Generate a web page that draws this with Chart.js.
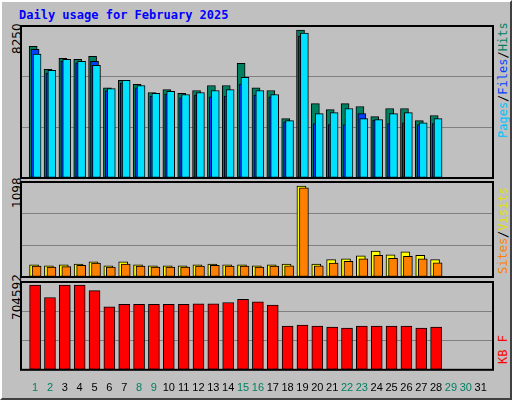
<!DOCTYPE html>
<html><head><meta charset="utf-8">
<script src="https://cdn.jsdelivr.net/npm/chart.js@4/dist/chart.umd.min.js"></script>
<style>
body{margin:0;background:#fff;}
#frame{position:absolute;left:0;top:0;width:508px;height:396px;background:#c0c0c0;border-top:2px solid #fff;border-left:2px solid #fff;border-right:2px solid #404040;border-bottom:2px solid #404040;overflow:hidden;font-family:"DejaVu Sans Mono",monospace;}
#title{position:absolute;left:17px;top:6px;color:#0000ff;font-weight:bold;font-size:12px;}
canvas{position:absolute;}
.vl{position:absolute;transform-origin:0 0;transform:rotate(-90deg);font-size:12px;white-space:nowrap;}
</style></head><body>
<div id="frame">
<div id="title">Daily usage for February 2025</div>
<div class="vl" style="left:8px;top:52px;color:#000;font-family:'DejaVu Sans';">8250</div>
<div class="vl" style="left:8px;top:206px;color:#000;font-family:'DejaVu Sans';">1098</div>
<div class="vl" style="left:8px;top:318px;color:#000;font-family:'DejaVu Sans';">704592</div>
<div class="vl" style="left:494px;top:136px;"><span style="color:#00c0ff">Pages</span>/<span style="color:#0040ff">Files</span>/<span style="color:#008060">Hits</span></div>
<div class="vl" style="left:494px;top:272px;"><span style="color:#ff8000">Sites</span>/<span style="color:#e0e000">Visits</span></div>
<div class="vl" style="left:494px;top:362px;color:#ff0000;">KB F</div>
<canvas id="c1" style="left:18px;top:23px" width="474" height="154"></canvas>
<canvas id="c2" style="left:18px;top:179px" width="474" height="97"></canvas>
<canvas id="c3" style="left:18px;top:279px" width="474" height="118"></canvas>
</div>
<script>
var days = [];
for (var i = 1; i <= 31; i++) days.push(i);
var hits  = [7150,5900,6500,6440,6600,4900,5300,5080,4640,4800,4590,4750,5020,5020,6220,4900,4750,3220,8030,4040,3710,4040,3880,3330,3770,3770,3110,3390];
var files = [6990,5700,6350,6250,6330,4750,5150,4900,4450,4550,4350,4500,4400,4450,5100,4500,4400,3050,7700,2950,2900,2900,3490,3150,2950,3000,2900,2950];
var pages = [6720,5840,6440,6330,6110,4860,5300,5020,4590,4700,4530,4640,4750,4800,5460,4750,4530,3110,7860,3490,3550,3770,3220,3170,3490,3550,3000,3220];
var visits = [140,130,140,150,175,130,175,140,130,130,130,140,150,140,140,130,140,150,1050,150,200,210,245,300,255,290,250,200];
var sites  = [125,115,120,135,160,115,150,125,115,115,115,125,135,125,125,115,125,130,1030,130,160,180,210,250,215,240,210,165];
var kbytes = [680000,580000,680000,680000,635000,505000,525000,525000,525000,525000,525000,530000,530000,540000,565000,545000,520000,350000,358000,350000,343000,335000,350000,350000,350000,350000,335000,343000];
var weekend = [1,2,8,9,15,16,22,23,29,30];

var xMin = 0.05, xMax = 31.83;

function pts(arr, off) {
  return arr.map(function(v, i) { return {x: i + 1 + off, y: v}; });
}

var frameBox = {
  id: 'frameBox',
  afterDraw: function(chart) {
    var a = chart.chartArea, c = chart.ctx;
    c.save();
    c.strokeStyle = '#000';
    c.lineWidth = 2;
    c.strokeRect(a.left, a.top, a.right - a.left, a.bottom - a.top);
    c.restore();
  }
};

function makeChart(id, sets, max, showX) {
  return new Chart(document.getElementById(id), {
    type: 'bar',
    data: {datasets: sets},
    plugins: [frameBox],
    options: {
      responsive: false, animation: false,
      layout: {padding: {left: 1, right: 1, top: 1, bottom: showX ? 0 : 1}},
      plugins: {legend: {display: false}, tooltip: {enabled: false}},
      scales: {
        x: {type: 'linear', min: xMin, max: xMax, display: showX, offset: false,
            grid: {display: false}, border: {display: false},
            afterBuildTicks: function(axis) { axis.ticks = days.map(function(d) { return {value: d}; }); },
            ticks: {autoSkip: false, maxRotation: 0, padding: 4,
              font: {family: 'Liberation Sans', size: 11},
              color: function(ctx) { return weekend.indexOf(ctx.tick.value) >= 0 ? '#008060' : '#000'; },
              callback: function(v) { return v; }}},
        y: {min: 0, max: max, display: true, border: {display: false},
            grid: {color: '#808080', lineWidth: 1, drawTicks: false},
            ticks: {display: false, stepSize: max / 3}}
      }
    }
  });
}

function ds(arr, off, color, w, order) {
  return {data: pts(arr, off), backgroundColor: color, borderColor: '#000', borderWidth: 1,
          barThickness: w, grouped: false, borderSkipped: false, order: order};
}

makeChart('c1', [ds(hits, -0.13, '#008060', 8, 3), ds(files, 0, '#0040ff', 8, 2), ds(pages, 0.13, '#00e0ff', 8, 1)], 8250, false);
makeChart('c2', [ds(visits, -0.07, '#ffff00', 9, 2), ds(sites, 0.1, '#ff8000', 9, 1)], 1098, false);
makeChart('c3', [ds(kbytes, 0, '#ff0000', 11, 1)], 704592, true);
</script>
</body></html>
